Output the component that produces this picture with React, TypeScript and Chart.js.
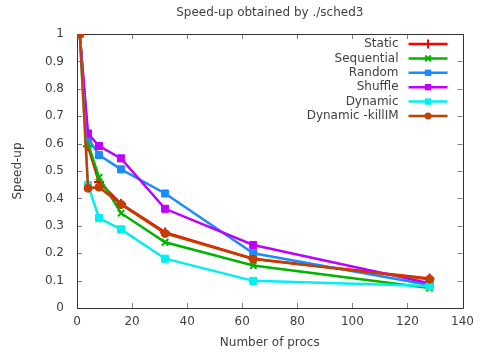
import React, { useEffect, useRef } from "react";
import { Chart, registerables } from "chart.js";

Chart.register(...registerables);

const procs = [1, 4, 8, 16, 32, 64, 128];
const seriesNames = ["Static", "Sequential", "Random", "Shuffle", "Dynamic", "Dynamic -killIM"];
const staticVals = [1, 0.59, 0.46, 0.38, 0.276, 0.18, 0.108];
const sequentialVals = [1, 0.6, 0.477, 0.346, 0.24, 0.155, 0.073];
const randomVals = [1, 0.62, 0.558, 0.506, 0.418, 0.2, 0.084];
const shuffleVals = [1, 0.637, 0.591, 0.546, 0.362, 0.23, 0.09];
const dynamicVals = [1, 0.449, 0.328, 0.287, 0.18, 0.099, 0.08];
const killIMVals = [1, 0.437, 0.441, 0.378, 0.272, 0.179, 0.105];
const seriesVals = [staticVals, sequentialVals, randomVals, shuffleVals, dynamicVals, killIMVals];
const colors = ["#ff0000", "#00b400", "#1a8cff", "#c000ff", "#00f0f0", "#c04000"];
const markers = ["cross", "crossRot", "rect", "rect", "rect", "circle"];
const radii = [5, 4.5, 5, 5, 5, 4];

const FONT = "'DejaVu Sans', sans-serif";
const TEXT = "#404040";

function drawMarker(ctx: CanvasRenderingContext2D, style: string, x: number, y: number, r: number, color: string) {
  ctx.save();
  ctx.fillStyle = color;
  ctx.strokeStyle = color;
  ctx.lineWidth = 2;
  ctx.beginPath();
  if (style === "rect") {
    const s = Math.SQRT1_2 * r;
    ctx.rect(x - s, y - s, 2 * s, 2 * s);
    ctx.fill();
  } else if (style === "circle") {
    ctx.arc(x, y, r, 0, Math.PI * 2);
    ctx.fill();
  } else if (style === "cross") {
    ctx.moveTo(x - r, y);
    ctx.lineTo(x + r, y);
    ctx.moveTo(x, y - r);
    ctx.lineTo(x, y + r);
    ctx.stroke();
  } else {
    const s = Math.SQRT1_2 * r;
    ctx.moveTo(x - s, y - s);
    ctx.lineTo(x + s, y + s);
    ctx.moveTo(x - s, y + s);
    ctx.lineTo(x + s, y - s);
    ctx.stroke();
  }
  ctx.restore();
}

const framePlugin = {
  id: "frame",
  beforeDatasetsDraw(chart: any) {
    const { ctx, chartArea, scales } = chart;
    const { left, right, top, bottom } = chartArea;
    ctx.save();
    ctx.strokeStyle = "#808080";
    ctx.lineWidth = 1;
    ctx.beginPath();
    scales.x.ticks.forEach((t: any) => {
      const px = Math.round(scales.x.getPixelForValue(t.value)) + 0.5;
      ctx.moveTo(px, bottom);
      ctx.lineTo(px, bottom - 5);
      ctx.moveTo(px, top);
      ctx.lineTo(px, top + 5);
    });
    scales.y.ticks.forEach((t: any) => {
      const py = Math.round(scales.y.getPixelForValue(t.value)) + 0.5;
      ctx.moveTo(left, py);
      ctx.lineTo(left + 5, py);
      ctx.moveTo(right, py);
      ctx.lineTo(right - 5, py);
    });
    ctx.stroke();
    ctx.strokeStyle = "#333333";
    ctx.beginPath();
    ctx.rect(Math.round(left) + 0.5, Math.round(top) + 0.5, Math.round(right - left), Math.round(bottom - top));
    ctx.stroke();
    ctx.restore();
  },
  afterDatasetsDraw(chart: any) {
    const { ctx, chartArea } = chart;
    const textRight = chartArea.right - 64;
    const lineStart = chartArea.right - 54;
    const lineEnd = chartArea.right - 15;
    ctx.save();
    ctx.font = "12px " + FONT;
    ctx.textAlign = "right";
    ctx.textBaseline = "middle";
    seriesNames.forEach((name, i) => {
      const y = chartArea.top + 10 + i * 14.4;
      ctx.fillStyle = TEXT;
      ctx.fillText(name, textRight, y);
      ctx.strokeStyle = colors[i];
      ctx.lineWidth = 2.5;
      ctx.beginPath();
      ctx.moveTo(lineStart, y);
      ctx.lineTo(lineEnd, y);
      ctx.stroke();
      drawMarker(ctx, markers[i], (lineStart + lineEnd) / 2, y, radii[i] - 0.5, colors[i]);
    });
    ctx.restore();
  },
};

export default function App() {
  const ref = useRef<HTMLCanvasElement | null>(null);
  useEffect(() => {
    if (!ref.current) return;
    const chart = new Chart(ref.current, {
      type: "line",
      data: {
        datasets: seriesNames.map((name, i) => ({
          label: name,
          data: procs.map((p, j) => ({ x: p, y: seriesVals[i][j] })),
          borderColor: colors[i],
          backgroundColor: colors[i],
          pointBackgroundColor: colors[i],
          pointBorderColor: colors[i],
          pointStyle: markers[i] as any,
          pointRadius: radii[i],
          pointBorderWidth: markers[i] === "cross" || markers[i] === "crossRot" ? 2 : 1,
          borderWidth: 2.5,
          tension: 0,
          fill: false,
          order: 10 - i,
        })),
      },
      options: {
        animation: false,
        responsive: false,
        maintainAspectRatio: false,
        layout: { padding: { left: 0, right: 14, top: 0, bottom: 0 } },
        plugins: {
          legend: { display: false },
          tooltip: { enabled: false },
          title: {
            display: true,
            text: "Speed-up obtained by ./sched3",
            fullSize: false,
            color: TEXT,
            font: { family: FONT, size: 12, weight: "normal" },
            padding: { top: 6, bottom: 13.6 },
          },
        },
        scales: {
          x: {
            type: "linear",
            min: 0,
            max: 140,
            ticks: { stepSize: 20, color: TEXT, font: { family: FONT, size: 12 }, padding: 7, maxRotation: 0 },
            grid: { display: false, drawTicks: false },
            border: { display: false },
            title: {
              display: true,
              text: "Number of procs",
              color: TEXT,
              font: { family: FONT, size: 12 },
              padding: { top: 0, bottom: 5.5 },
            },
            afterFit: (s: any) => {
              s.height = 48;
            },
          },
          y: {
            type: "linear",
            min: 0,
            max: 1,
            ticks: {
              stepSize: 0.1,
              color: TEXT,
              font: { family: FONT, size: 12 },
              padding: 13,
              callback: (v: any) => String(Math.round(Number(v) * 10) / 10),
            },
            grid: { display: false, drawTicks: false },
            border: { display: false },
            title: {
              display: true,
              text: "Speed-up",
              color: TEXT,
              font: { family: FONT, size: 12 },
              padding: { top: 10.8, bottom: 0 },
            },
            afterFit: (s: any) => {
              s.width = 77;
            },
          },
        },
      },
      plugins: [framePlugin],
    });
    return () => chart.destroy();
  }, []);
  return (
    <div style={{ position: "absolute", left: 0, top: 0, width: 481, height: 356, background: "#fff" }}>
      <canvas ref={ref} width={481} height={356} style={{ display: "block" }} />
    </div>
  );
}
